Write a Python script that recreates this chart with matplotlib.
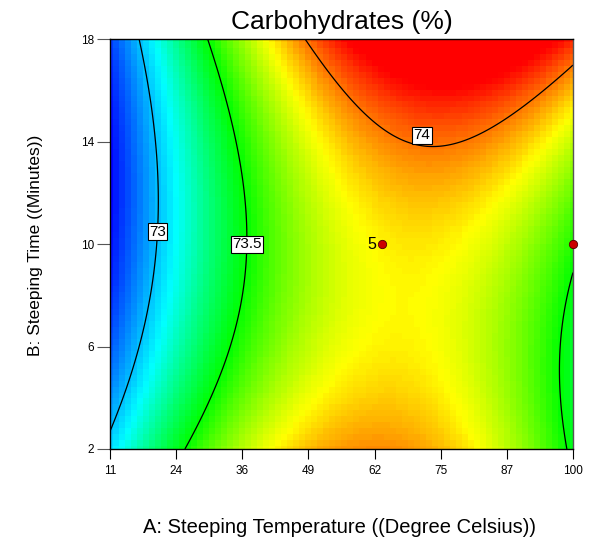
import numpy as np
import matplotlib
matplotlib.use('Agg')
import matplotlib.pyplot as plt
from matplotlib.colors import LinearSegmentedColormap

plt.rcParams['font.family'] = ['Liberation Sans', 'DejaVu Sans']

# quadratic response model in coded units
b0, bA, bB, bAB, bAA, bBB = 73.797, 0.441, 0.0815, 0.233, -0.699, 0.2445
A_lo, A_hi = 11, 100
B_lo, B_hi = 2, 18

levels = [73, 73.5, 74]
label_pos = [(19, 10.5), (35.5, 10.0), (71, 14.25)]

pts_A = [63.3, 100]
pts_B = [10, 10]
pts_txt = ['5', '']

x_ticks = np.linspace(A_lo, A_hi, 8)
x_labels = ['11', '24', '36', '49', '62', '75', '87', '100']
y_ticks = [2, 6, 10, 14, 18]

# colour stops (response value -> colour)
c_vals = [72.63, 73.12, 73.5, 73.84, 74.14, 74.3]
c_cols = ['#0000ff', '#00ffff', '#00ff00', '#ffff00', '#ff0000', '#ff0000']


def model(a, b):
    x = (a - (A_lo + A_hi) / 2) / ((A_hi - A_lo) / 2)
    y = (b - (B_lo + B_hi) / 2) / ((B_hi - B_lo) / 2)
    return b0 + bA * x + bB * y + bAB * x * y + bAA * x ** 2 + bBB * y ** 2


AA, BB = np.meshgrid(np.linspace(A_lo, A_hi, 78), np.linspace(B_lo, B_hi, 70))
Z = model(AA, BB)
AF, BF = np.meshgrid(np.linspace(A_lo, A_hi, 300), np.linspace(B_lo, B_hi, 300))
ZF = model(AF, BF)

vmin, vmax = c_vals[0], c_vals[-1]
cmap = LinearSegmentedColormap.from_list(
    'de', [((v - vmin) / (vmax - vmin), c) for v, c in zip(c_vals, c_cols)])

fig = plt.figure(figsize=(5.91, 5.39), dpi=100)
ax = fig.add_axes([0.186, 0.167, 0.7835, 0.7605])

ax.pcolormesh(AA, BB, Z, cmap=cmap, vmin=vmin, vmax=vmax, shading='nearest')
cs = ax.contour(AF, BF, ZF, levels=levels, colors='black', linewidths=0.9)
lbls = ax.clabel(cs, fmt='%g', inline=False, fontsize=11, manual=label_pos)
for t in lbls:
    t.set_rotation(0)
    t.set_color('black')
    t.set_bbox(dict(boxstyle='square,pad=0.1', fc='white', ec='black', lw=0.8))
    # 74 label sits just above the bottom of its curve
    if t.get_text() == '74':
        t.set_position(label_pos[2])

ax.scatter(pts_A, pts_B, s=36, color='#cc0000', edgecolors='#550000',
           linewidths=0.6, zorder=5, clip_on=False)
for a, b, s in zip(pts_A, pts_B, pts_txt):
    if s:
        ax.text(a - 1.2, b, s, fontsize=11.5, ha='right', va='center')

ax.set_xlim(A_lo, A_hi)
ax.set_ylim(B_lo, B_hi)
ax.set_xticks(x_ticks)
ax.set_xticklabels(x_labels)
ax.set_yticks(y_ticks)
ax.tick_params(axis='x', length=7.2, width=0.8, labelsize=8.5, pad=4)
ax.tick_params(axis='y', length=9.4, width=0.8, labelsize=8.5, pad=2,
               color='#555555')
for sp in ax.spines.values():
    sp.set_linewidth(1.0)
ax.spines['right'].set_color('#555555')

ax.set_title('Carbohydrates (%)', fontsize=19, pad=7)
fig.text(0.575, 0.022, 'A: Steeping Temperature ((Degree Celsius))',
         fontsize=14.5, ha='center', va='center')
fig.text(0.06, 0.545, 'B: Steeping Time ((Minutes))', fontsize=12.5,
         rotation=90, ha='center', va='center')

fig.savefig('out.png', dpi=100)
